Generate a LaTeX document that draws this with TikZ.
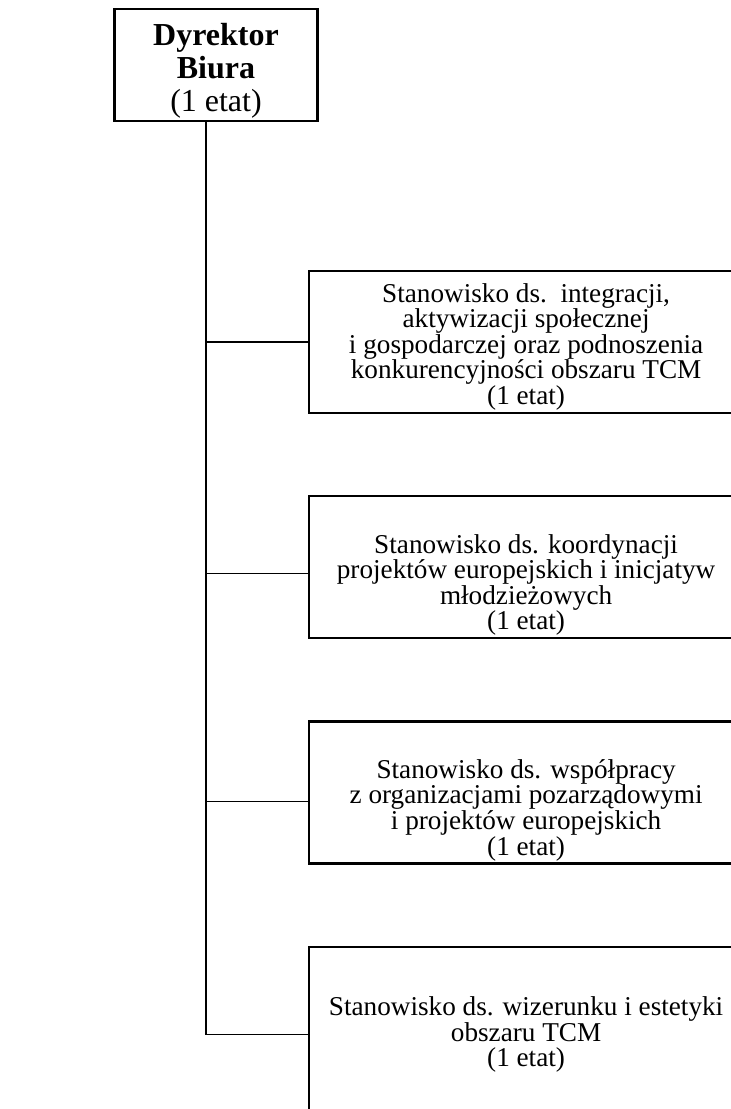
\documentclass[tikz,border=0pt]{standalone}
\usepackage{fontspec}
\setmainfont{Liberation Serif}
\usetikzlibrary{positioning}
\newcommand{\lowline}[2][27pt]{\raisebox{0pt}[#1][0pt]{#2}}

\begin{document}
\begin{tikzpicture}[
  x=0.5pt, y=-0.5pt,
  every node/.style={inner sep=1pt},
  post/.style={draw, line width=1.1pt, align=center, minimum width=217pt, minimum height=71pt, font=\fontsize{13.6}{12.8}\selectfont},
  chief/.style={draw, line width=1.1pt, align=center, minimum width=101.5pt, minimum height=56pt, font=\fontsize{16}{16.5}\selectfont},
  link/.style={line width=0.7pt},
  ]
  \useasboundingbox (0,0) rectangle (731,1109);
  \clip (0,0) rectangle (731,1109);

  \node[chief, anchor=north] (dyr) at (216,8) {\lowline[17pt]{\textbf{Dyrektor}}\\\textbf{Biura}\\(1 etat)};
  \node[post, anchor=north west] (s1) at (308,270) {\lowline[14pt]{Stanowisko ds.\ \ integracji,}\\aktywizacji społecznej\\i gospodarczej oraz podnoszenia\\konkurencyjności obszaru TCM\\(1 etat)};
  \node[post, below=40.5pt of s1] (s2) {\lowline{Stanowisko ds. koordynacji}\\projektów europejskich i inicjatyw\\młodzieżowych\\(1 etat)};
  \node[post, below=40.5pt of s2] (s3) {\lowline{Stanowisko ds. współpracy}\\z organizacjami pozarządowymi\\i projektów europejskich\\(1 etat)};
  \node[post, minimum height=88pt, below=40.5pt of s3] (s4) {Stanowisko ds. wizerunku i estetyki\\obszaru TCM\\(1 etat)};

  \coordinate (trunk) at (206,0);
  \draw[link] (dyr.south -| trunk) -- (trunk |- s4.west);
  \foreach \s/\d in {s1/0, s2/-3, s3/-4.5, s4/0}
    \draw[link] ([yshift=\d pt]\s.west -| trunk) -- ([yshift=\d pt]\s.west);

\end{tikzpicture}
\end{document}
